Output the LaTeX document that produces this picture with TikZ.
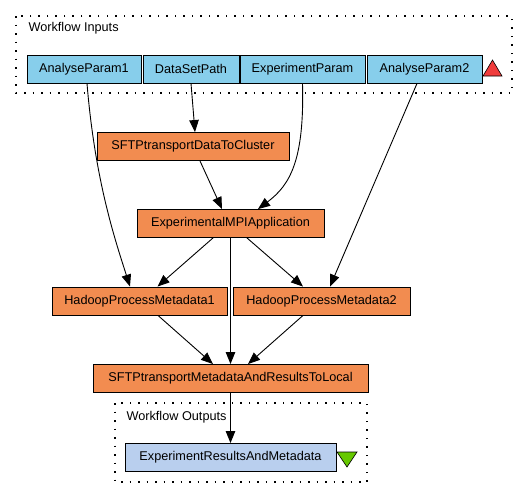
\documentclass[tikz,border=0pt]{standalone}
\usepackage{fontspec}
\setmainfont{Liberation Sans}
\usetikzlibrary{arrows.meta}
\definecolor{inblue}{HTML}{87CEEB}
\definecolor{procorange}{HTML}{F28C50}
\definecolor{outblue}{HTML}{B9CFEE}
\definecolor{upred}{HTML}{F03C3C}
\definecolor{downgreen}{HTML}{66C800}
\tikzstyle{inputbox} = [rectangle, minimum height=28pt, inner sep=0pt, text centered, draw=black, line width=0.9pt, fill=inblue]
\tikzstyle{process} = [rectangle, minimum height=28pt, inner sep=0pt, text centered, draw=black, line width=0.9pt, fill=procorange]
\tikzstyle{outputbox} = [rectangle, minimum height=28pt, inner sep=0pt, text centered, draw=black, line width=0.9pt, fill=outblue]
\tikzstyle{portframe} = [line width=1.2pt, dash pattern=on 1.5pt off 7pt]
\tikzstyle{arrow} = [line width=0.9pt,-{Triangle[length=12pt,width=9.5pt]}]

\begin{document}
\begin{tikzpicture}[x=1pt,y=-1pt,font=\fontsize{12.7}{15}\selectfont]
\useasboundingbox (0,0) rectangle (528,499);

% workflow inputs
\draw [portframe] (16,16) rectangle (512,93);
\node (inlabel) [anchor=west] at (25,28) {Workflow Inputs};
\node (ap1) [inputbox, minimum width=114pt] at (84,69) {AnalyseParam1};
\node (dsp) [inputbox, minimum width=96pt] at (191,69) {DataSetPath};
\node (ep) [inputbox, minimum width=125pt] at (302.5,69) {ExperimentParam};
\node (ap2) [inputbox, minimum width=115pt] at (424.5,69) {AnalyseParam2};
\draw [fill=upred, line width=0.6pt] (483,76) -- (502,76) -- (492.5,60) -- cycle;

% processors
\node (sftpdata) [process, minimum width=192pt] at (193,146.5) {SFTPtransportDataToCluster};
\node (mpi) [process, minimum width=187pt] at (230.5,223.5) {ExperimentalMPIApplication};
\node (hadoop1) [process, minimum width=175pt] at (139.5,301) {HadoopProcessMetadata1};
\node (hadoop2) [process, minimum width=177pt] at (321.5,301) {HadoopProcessMetadata2};
\node (sftpmeta) [process, minimum width=275pt] at (230.5,378.5) {SFTPtransportMetadataAndResultsToLocal};

% workflow outputs
\draw [portframe] (115,403) rectangle (367,482);
\node (outlabel) [anchor=west] at (123,417) {Workflow Outputs};
\node (results) [outputbox, minimum width=211pt] at (230.5,457.5) {ExperimentResultsAndMetadata};
\draw [fill=downgreen, line width=0.6pt] (337,452) -- (357,452) -- (347,467) -- cycle;

\draw [arrow] ([xshift=3pt]ap1.south) .. controls +(8,97) and +(-15,-47) .. ([xshift=-9.5pt]hadoop1.north);
\draw [arrow] (dsp.south) -- ([xshift=2pt]sftpdata.north);
\draw [arrow] (ep.south) .. controls +(2,77) and +(32,-24) .. ([xshift=27.5pt]mpi.north);
\draw [arrow] ([xshift=-7.5pt]ap2.south) -- ([xshift=8.5pt]hadoop2.north);
\draw [arrow] ([xshift=7pt]sftpdata.south) -- ([xshift=-8.5pt]mpi.north);
\draw [arrow] ([xshift=-17.5pt]mpi.south) -- ([xshift=18pt]hadoop1.north);
\draw [arrow] (mpi.south) -- (sftpmeta.north);
\draw [arrow] ([xshift=16.5pt]mpi.south) -- ([xshift=-18.5pt]hadoop2.north);
\draw [arrow] ([xshift=18.5pt]hadoop1.south) -- ([xshift=-17.5pt]sftpmeta.north);
\draw [arrow] ([xshift=-18.5pt]hadoop2.south) -- ([xshift=17.5pt]sftpmeta.north);
\draw [arrow] (sftpmeta.south) -- (results.north);

\end{tikzpicture}
\end{document}
